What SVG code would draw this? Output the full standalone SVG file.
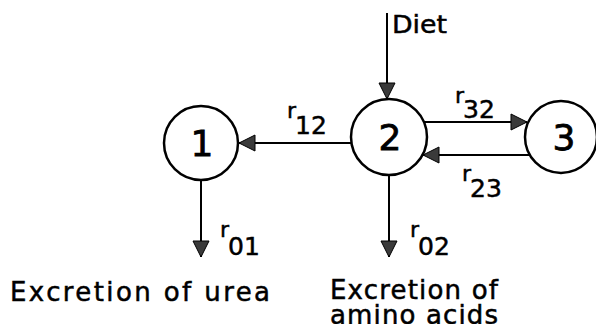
<svg xmlns="http://www.w3.org/2000/svg" width="596" height="324" viewBox="0 0 596 324">
<style>
.node{fill:#fff;stroke:#000;stroke-width:2.5}
.num{font-family:"DejaVu Sans",sans-serif;font-size:36px;text-anchor:middle;fill:#000;stroke:#000;stroke-width:0.8}
.lab{font-family:"DejaVu Sans",sans-serif;fill:#000;stroke:#000;stroke-width:0.5}
.conn{stroke:#000;stroke-width:2;fill:none}
.head{fill:#3a3a3a;stroke:#000;stroke-width:1}
</style>
<defs>
<marker id="ah" viewBox="0 0 18 18" refX="17" refY="9" markerWidth="18" markerHeight="18" markerUnits="userSpaceOnUse" orient="auto">
<path class="head" d="M1,1 L17,9 L1,17 Z"/>
</marker>
</defs>
<g id="connectors">
<line class="conn" x1="387" y1="13" x2="387" y2="99" marker-end="url(#ah)"/>
<line class="conn" x1="351" y1="143" x2="239" y2="143" marker-end="url(#ah)"/>
<line class="conn" x1="424" y1="122" x2="527" y2="122" marker-end="url(#ah)"/>
<line class="conn" x1="530" y1="155" x2="423" y2="155" marker-end="url(#ah)"/>
<line class="conn" x1="201" y1="180" x2="201" y2="257" marker-end="url(#ah)"/>
<line class="conn" x1="389" y1="175" x2="389" y2="257" marker-end="url(#ah)"/>
</g>
<g id="node1"><circle class="node" cx="201" cy="143" r="37"/><text class="num" x="202" y="156">1</text></g>
<g id="node2"><circle class="node" cx="389" cy="137" r="38"/><text class="num" x="390" y="150">2</text></g>
<g id="node3"><circle class="node" cx="561" cy="137" r="36"/><text class="num" x="564" y="150">3</text></g>
<g id="labels" class="lab">
<text x="392" y="33" font-size="24" textLength="55" lengthAdjust="spacingAndGlyphs">Diet</text>
<text x="287" y="118"><tspan font-size="22">r</tspan><tspan font-size="25" dy="16" dx="-1">12</tspan></text>
<text x="455" y="103"><tspan font-size="22">r</tspan><tspan font-size="25" dy="15" dx="-1">32</tspan></text>
<text x="462" y="181"><tspan font-size="22">r</tspan><tspan font-size="25" dy="16" dx="-1">23</tspan></text>
<text x="220" y="237"><tspan font-size="22">r</tspan><tspan font-size="25" dy="18" dx="-1">01</tspan></text>
<text x="410" y="237"><tspan font-size="22">r</tspan><tspan font-size="25" dy="18" dx="-1">02</tspan></text>
<text x="10" y="301" font-size="26" textLength="260" lengthAdjust="spacing">Excretion of urea</text>
<text x="330" y="299" font-size="26" textLength="168" lengthAdjust="spacing">Excretion of</text>
<text x="330" y="324" font-size="26" textLength="168" lengthAdjust="spacing">amino acids</text>
</g>
</svg>
